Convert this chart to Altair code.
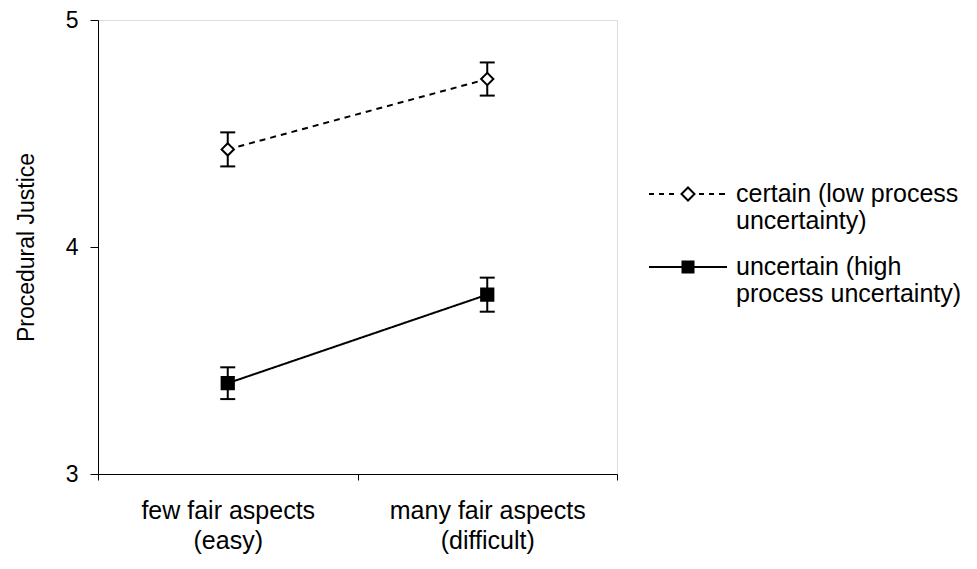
import altair as alt
import pandas as pd

# ---- data ----
categories = ["few fair aspects\n(easy)", "many fair aspects\n(difficult)"]
series = ["certain (low process\nuncertainty)", "uncertain (high\nprocess uncertainty)"]
means_certain = [4.43, 4.74]
means_uncertain = [3.40, 3.79]
err_certain = [0.075, 0.073]
err_uncertain = [0.07, 0.075]
y_ticks = [3, 4, 5]

rows = []
for s, means, errs in [(series[0], means_certain, err_certain),
                       (series[1], means_uncertain, err_uncertain)]:
    for i, c in enumerate(categories):
        rows.append({"series": s, "category": c, "idx": i,
                     "mean": means[i], "lo": means[i] - errs[i], "hi": means[i] + errs[i]})
df = pd.DataFrame(rows)

FONT = "Liberation Sans"
FS = 25
PLOT_W, PLOT_H = 519, 454

def js_arr(lbl):
    return "[" + ",".join("'" + p + "'" for p in lbl.split("\n")) + "]"

# labels sit at the tick that opens each category band, shifted to its centre
label_expr = " : ".join(
    f"datum.value == {i} ? {js_arr(c)}" for i, c in enumerate(categories)
) + " : ''"

x_scale = alt.Scale(domain=[0, len(categories)], nice=False, zero=False)
x_axis = alt.Axis(
    values=list(range(len(categories) + 1)), labelExpr=label_expr, title=None, grid=False,
    tickSize=6, tickColor="black", domainColor="black",
    labelFont=FONT, labelFontSize=FS, labelColor="black", labelLineHeight=30,
    labelPadding=18, labelOverlap=False, labelFlush=False, labelLimit=400,
    labelAlign="center", labelOffset=PLOT_W / len(categories) / 2,
)

y_scale = alt.Scale(domain=[3, 5], nice=False, zero=False)
y_axis = alt.Axis(
    values=y_ticks, labelExpr="format(datum.value, '.0f')", grid=False, tickSize=8,
    tickColor="black", domainColor="black", labelFont=FONT, labelFontSize=23,
    labelColor="black", labelPadding=12, labelOverlap=False,
    titleFont=FONT, titleFontSize=23, titleFontWeight="normal",
    titleColor="black", titlePadding=27,
)
TITLE = "Procedural Justice"

base = alt.Chart(df).transform_calculate(pos="datum.idx + 0.5")
X = alt.X("pos:Q", scale=x_scale, axis=x_axis, title=None)

def Y(field):
    return alt.Y(field, scale=y_scale, axis=y_axis, title=TITLE)

line = base.mark_line(color="black", strokeWidth=2).encode(
    x=X, y=Y("mean:Q"),
    strokeDash=alt.StrokeDash("series:N", scale=alt.Scale(domain=series, range=[[6, 5], [1, 0]]), legend=None),
)

bars = base.mark_rule(color="black", strokeWidth=2).encode(
    x=X, y=Y("lo:Q"), y2="hi:Q",
)
cap_lo = base.mark_tick(color="black", orient="horizontal", size=15, thickness=2, opacity=1).encode(
    x=X, y=Y("lo:Q"),
)
cap_hi = base.mark_tick(color="black", orient="horizontal", size=15, thickness=2, opacity=1).encode(
    x=X, y=Y("hi:Q"),
)

points = base.mark_point(filled=True, stroke="black", strokeWidth=2, opacity=1, size=150).encode(
    x=X, y=Y("mean:Q"),
    shape=alt.Shape("series:N", scale=alt.Scale(domain=series, range=["diamond", "square"]), legend=None),
    fill=alt.Fill("series:N", scale=alt.Scale(domain=series, range=["white", "black"]), legend=None),
)

# ---- legend symbols: line + marker drawn as one custom path ----
SYM = 50.0          # legend symbol layout width in px
S = SYM / 2.0       # px per path unit

def u(v):
    return f"{v / S:.4f}"

def seg(a, b):
    return f"M{u(a)},0L{u(b)},0"

dashes = [(-39, -34), (-29, -24), (-19, -14), (11, 16), (21, 26), (31, 37)]
r = 6.5
path_certain = "".join(seg(a, b) for a, b in dashes) + (
    f"M{u(-r)},0L0,{u(-r)}L{u(r)},0L0,{u(r)}Z")
a = 5.5
path_uncertain = seg(-39, 39) + (
    f"M{u(-a)},{u(-a)}L{u(a)},{u(-a)}L{u(a)},{u(a)}L{u(-a)},{u(a)}Z")

leg = alt.Legend(
    title=None, orient="none", legendX=564, legendY=148,
    symbolSize=SYM ** 2, symbolStrokeWidth=2, symbolStrokeColor="black",
    labelFont=FONT, labelFontSize=FS, labelColor="black",
    labelExpr="split(datum.label, '\\n')", labelLimit=400, labelOffset=22,
    rowPadding=7, padding=0,
)

legend_layer = base.transform_filter("false").mark_point(
    filled=False, strokeWidth=2, opacity=1
).encode(
    x=X, y=Y("mean:Q"),
    shape=alt.Shape("series:N", scale=alt.Scale(domain=series, range=[path_certain, path_uncertain]), legend=leg),
    fill=alt.Fill("series:N", scale=alt.Scale(domain=series, range=["white", "black"]), legend=leg),
    stroke=alt.Stroke("series:N", scale=alt.Scale(domain=series, range=["black", "black"]), legend=leg),
)

chart = alt.layer(line, bars, cap_lo, cap_hi, points, legend_layer).resolve_scale(
    shape="independent", fill="independent", stroke="independent"
).properties(
    width=PLOT_W, height=PLOT_H,
    autosize=alt.AutoSizeParams(type="none"),
    padding={"left": 90, "top": 12, "right": 352, "bottom": 87},
).configure_view(stroke="#808080", strokeWidth=1).configure(background="white")

chart.save("out.html", embed_options={"renderer": "svg", "actions": False})
